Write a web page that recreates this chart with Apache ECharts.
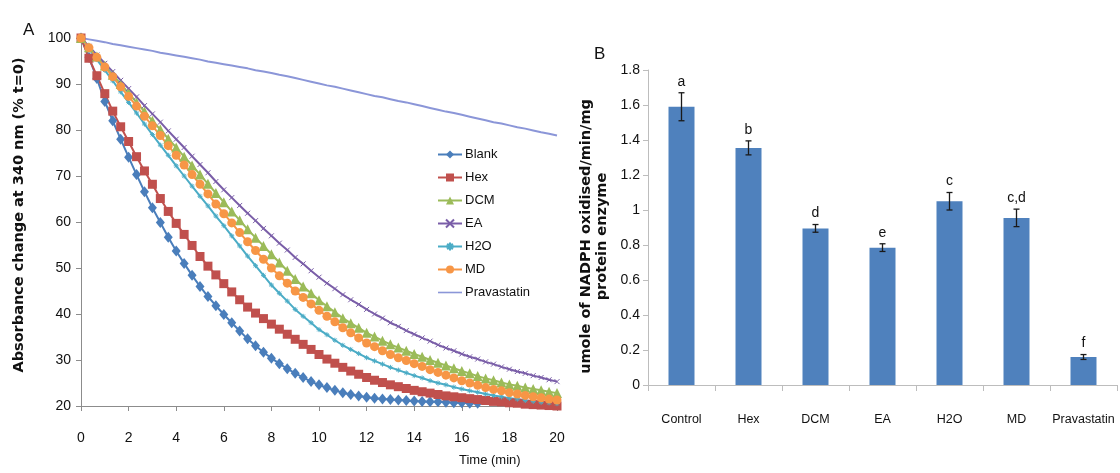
<!DOCTYPE html>
<html>
<head>
<meta charset="utf-8">
<script src="https://cdn.jsdelivr.net/npm/echarts@6/dist/echarts.min.js"></script>
<style>
  html, body { margin: 0; padding: 0; background: #fff; }
  #chart { width: 1120px; height: 473px; }
</style>
</head>
<body>
<div id="chart"></div>
<script>
// Panel A: absorbance at 340 nm over time, sampled every 20 s
const timeSec = [0, 20, 40, 60, 80, 100, 120, 140, 160, 180, 200, 220, 240, 260, 280, 300,
  320, 340, 360, 380, 400, 420, 440, 460, 480, 500, 520, 540, 560, 580, 600,
  620, 640, 660, 680, 700, 720, 740, 760, 780, 800, 820, 840, 860, 880, 900,
  920, 940, 960, 980, 1000, 1020, 1040, 1060, 1080, 1100, 1120, 1140, 1160, 1180, 1200];

const blank = [100, 95.8, 91.2, 86.2, 82, 78, 74.1, 70.3, 66.6, 63.1, 59.9, 56.7, 53.7,
  51, 48.4, 46, 43.8, 41.8, 39.9, 38.1, 36.3, 34.6, 33.1, 31.7, 30.4, 29.2, 28.1, 27.1,
  26.2, 25.3, 24.6, 24, 23.4, 22.9, 22.5, 22.2, 21.9, 21.7, 21.5, 21.4, 21.3, 21.2, 21.1,
  21, 20.9, 20.9, 20.8, 20.7, 20.7, 20.6, 20.6];

const hex = [100, 95.6, 91.8, 87.9, 84.1, 80.7, 77.5, 74.2, 71.1, 68.2, 65.1, 62.3, 59.7,
  57.3, 54.9, 52.5, 50.4, 48.5, 46.6, 44.8, 43.1, 41.5, 40.2, 39, 37.8, 36.7, 35.6, 34.5,
  33.4, 32.3, 31.2, 30.2, 29.3, 28.4, 27.6, 26.9, 26.2, 25.6, 25.1, 24.6, 24.2, 23.8, 23.4,
  23.1, 22.8, 22.5, 22.2, 22, 21.8, 21.6, 21.4, 21.2, 21, 20.9, 20.7, 20.6, 20.4, 20.3,
  20.2, 20.1, 20];

const dcm = [100, 98, 96, 94, 92, 90, 88, 86, 84, 82, 80.1, 78.1, 76.2, 74.2, 72.3, 70.3,
  68.3, 66.3, 64.3, 62.3, 60.4, 58.4, 56.6, 54.8, 53, 51.2, 49.4, 47.6, 46, 44.5, 43,
  41.7, 40.4, 39.1, 38, 37, 35.9, 35.1, 34.2, 33.4, 32.7, 32, 31.3, 30.7, 30, 29.4,
  28.8, 28.2, 27.6, 27.1, 26.5, 26, 25.6, 25.1, 24.7, 24.4, 24, 23.7, 23.4, 23.1, 22.8];

const ea = [100, 98.2, 96.3, 94.5, 92.7, 90.8, 89, 87.2, 85.3, 83.5, 81.7, 79.8, 78,
  76.2, 74.3, 72.5, 70.7, 68.8, 67, 65.3, 63.6, 61.9, 60.3, 58.6, 57, 55.4, 53.9, 52.3,
  50.9, 49.4, 48, 46.7, 45.5, 44.2, 43.1, 42.1, 41, 40, 39.1, 38.1, 37.3, 36.4, 35.6,
  34.8, 34.1, 33.3, 32.6, 32, 31.3, 30.7, 30.2, 29.6, 29.1, 28.5, 28, 27.5, 27.1, 26.6,
  26.2, 25.7, 25.3];

const h2o = [100, 97.7, 95.3, 93, 90.7, 88.3, 86, 83.7, 81.3, 79, 76.7, 74.5, 72.2,
  70, 67.8, 65.6, 63.5, 61.3, 59.2, 57, 54.8, 52.6, 50.5, 48.4, 46.3, 44.5, 42.8, 41,
  39.5, 38.1, 36.6, 35.5, 34.3, 33.2, 32.3, 31.4, 30.5, 29.8, 29.1, 28.4, 27.8, 27.2,
  26.6, 26.1, 25.5, 25, 24.6, 24.1, 23.7, 23.3, 23, 22.6, 22.3, 22, 21.7, 21.5, 21.2,
  21, 20.8, 20.7, 20.5];

const md = [100, 97.9, 95.8, 93.7, 91.6, 89.4, 87.3, 85.2, 83, 80.9, 78.8, 76.6, 74.5,
  72.4, 70.3, 68.2, 66.1, 63.9, 61.8, 59.8, 57.7, 55.7, 53.8, 51.9, 50, 48.3, 46.7, 45,
  43.6, 42.2, 40.8, 39.5, 38.3, 37, 35.9, 34.8, 33.7, 32.9, 32, 31.2, 30.5, 29.9, 29.2,
  28.6, 27.9, 27.3, 26.7, 26.1, 25.5, 25, 24.5, 24, 23.6, 23.3, 22.9, 22.6, 22.3, 22,
  21.8, 21.5, 21.3];

const pravastatin = [100, 99.7, 99.4, 99.1, 98.7, 98.4, 98.1, 97.8, 97.5, 97.2, 96.8,
  96.5, 96.2, 95.9, 95.6, 95.3, 94.9, 94.6, 94.3, 94, 93.7, 93.4, 93, 92.7, 92.4, 92,
  91.7, 91.3, 90.9, 90.5, 90.1, 89.7, 89.4, 89, 88.6, 88.2, 87.8, 87.4, 87.1, 86.7,
  86.3, 86, 85.6, 85.2, 84.8, 84.4, 84, 83.7, 83.3, 82.9, 82.5, 82.1, 81.7, 81.4, 81,
  80.6, 80.3, 79.9, 79.5, 79.2, 78.8];

// Panel B: HMG-CoA reductase activity
const groups = ['Control', 'Hex', 'DCM', 'EA', 'H2O', 'MD', 'Pravastatin'];
const activity = [1.59, 1.355, 0.895, 0.785, 1.05, 0.955, 0.16];
const activityErr = [0.08, 0.04, 0.022, 0.022, 0.05, 0.05, 0.014];
const letters = ['a', 'b', 'd', 'e', 'c', 'c,d', 'f'];

const SANS = "'Liberation Sans', Arial, sans-serif";
const TITLE_FONT = "'DejaVu Sans', Verdana, sans-serif";

function pairs(values) {
  return values.map((v, i) => [timeSec[i] / 60, v]);
}

const crossPath = 'path://M0,0L10,10M10,0L0,10';
const starPath = 'path://M0,5L10,5M5,0L5,10M1.5,1.5L8.5,8.5M8.5,1.5L1.5,8.5';

function curve(name, values, color, symbol, size, extra) {
  return Object.assign({
    name: name,
    type: 'line',
    xAxisIndex: 0,
    yAxisIndex: 0,
    data: pairs(values),
    symbol: symbol,
    symbolSize: size,
    showSymbol: symbol !== 'none',
    color: color,
    lineStyle: { color: color, width: 2 },
    itemStyle: { color: color },
    emphasis: { disabled: true }
  }, extra || {});
}

const chart = echarts.init(document.getElementById('chart'), null, { renderer: 'canvas' });

const option = {
  animation: false,
  backgroundColor: '#ffffff',
  grid: [
    { left: 81, top: 38, width: 476, height: 368 },
    { left: 648, top: 70, width: 469, height: 315 }
  ],
  legend: {
    orient: 'vertical',
    left: 432,
    top: 143,
    itemWidth: 24,
    itemHeight: 10,
    itemGap: 10,
    textStyle: { fontFamily: SANS, fontSize: 13, color: '#111', padding: [0, 0, 0, -2] },
    data: ['Blank', 'Hex', 'DCM', 'EA', 'H2O', 'MD',
      { name: 'Pravastatin', icon: 'path://M0,4.2L24,4.2L24,5.8L0,5.8Z' }]
  },
  xAxis: [
    {
      type: 'value', gridIndex: 0, min: 0, max: 20, interval: 2,
      axisLine: { show: true, lineStyle: { color: '#8c8c8c', width: 1 } },
      axisTick: { show: true, length: 5, lineStyle: { color: '#8c8c8c' } },
      axisLabel: { margin: 25, fontFamily: SANS, fontSize: 14, color: '#111' },
      splitLine: { show: false }
    },
    {
      type: 'category', gridIndex: 1, data: groups,
      axisLine: { show: true, lineStyle: { color: '#bdbdbd', width: 1 } },
      axisTick: { show: true, length: 6, lineStyle: { color: '#bdbdbd' } },
      axisLabel: { margin: 28, interval: 0, fontFamily: SANS, fontSize: 12.5, color: '#111' },
      splitLine: { show: false }
    }
  ],
  yAxis: [
    {
      type: 'value', gridIndex: 0, min: 20, max: 100, interval: 10,
      name: 'Absorbance change at 340 nm (% t=0)',
      nameLocation: 'middle', nameGap: 54,
      nameTextStyle: { fontFamily: TITLE_FONT, fontWeight: 'bold', fontSize: 14.5, color: '#111',
        padding: [0, 0, 0, 14] },
      axisLine: { show: true, lineStyle: { color: '#8c8c8c', width: 1 } },
      axisTick: { show: true, length: 5, lineStyle: { color: '#8c8c8c' } },
      axisLabel: { margin: 10, fontFamily: SANS, fontSize: 14, color: '#111' },
      splitLine: { show: false }
    },
    {
      type: 'value', gridIndex: 1, min: 0, max: 1.8, interval: 0.2,
      name: 'umole of NADPH oxidised/min/mg\nprotein enzyme',
      nameLocation: 'middle', nameGap: 38,
      nameTextStyle: { fontFamily: TITLE_FONT, fontWeight: 'bold', fontSize: 14.5, color: '#111',
        lineHeight: 16, align: 'center', padding: [0, 18, 0, 0] },
      axisLine: { show: true, lineStyle: { color: '#bdbdbd', width: 1 } },
      axisTick: { show: true, length: 5, lineStyle: { color: '#bdbdbd' } },
      axisLabel: { margin: 8, fontFamily: SANS, fontSize: 14, color: '#111' },
      splitLine: { show: false }
    }
  ],
  graphic: [
    { type: 'text', left: 23, top: 22,
      style: { text: 'A', font: '17px ' + SANS, fill: '#111' } },
    { type: 'text', left: 594, top: 46,
      style: { text: 'B', font: '17px ' + SANS, fill: '#111' } },
    { type: 'text', left: 459, top: 454,
      style: { text: 'Time (min)', font: '13px ' + SANS, fill: '#111' } }
  ],
  series: [
    curve('Blank', blank, '#4a7ebb', 'diamond', [9, 11]),
    curve('Hex', hex, '#c0504d', 'rect', 9),
    curve('DCM', dcm, '#9bbb59', 'triangle', 10),
    curve('EA', ea, '#7a5ea8', crossPath, 5,
      { itemStyle: { color: '#7a5ea8', borderColor: '#7a5ea8', borderWidth: 1 } }),
    curve('H2O', h2o, '#4bacc6', starPath, 5,
      { itemStyle: { color: '#4bacc6', borderColor: '#4bacc6', borderWidth: 1 } }),
    curve('MD', md, '#f79646', 'circle', 9),
    curve('Pravastatin', pravastatin, '#8b96d8', 'none', 0),
    {
      name: 'activity', type: 'bar', xAxisIndex: 1, yAxisIndex: 1,
      data: activity, barWidth: 26,
      itemStyle: { color: '#4f81bd' },
      emphasis: { disabled: true }
    },
    {
      name: 'sd', type: 'custom', xAxisIndex: 1, yAxisIndex: 1,
      data: activity.map((v, i) => [i, v, activityErr[i]]),
      encode: { x: 0, y: 1 },
      z: 5,
      renderItem: function (params, api) {
        const i = api.value(0), m = api.value(1), e = api.value(2);
        const top = api.coord([i, m + e]);
        const bot = api.coord([i, m - e]);
        const cap = 3;
        const stroke = { stroke: '#1a1a1a', lineWidth: 1.3 };
        return {
          type: 'group',
          children: [
            { type: 'line', shape: { x1: top[0], y1: top[1], x2: bot[0], y2: bot[1] }, style: stroke },
            { type: 'line', shape: { x1: top[0] - cap, y1: top[1], x2: top[0] + cap, y2: top[1] }, style: stroke },
            { type: 'line', shape: { x1: bot[0] - cap, y1: bot[1], x2: bot[0] + cap, y2: bot[1] }, style: stroke },
            { type: 'text', x: top[0], y: top[1] - 4,
              style: { text: letters[params.dataIndex], textAlign: 'center', textVerticalAlign: 'bottom',
                font: '14px ' + SANS, fill: '#111' } }
          ]
        };
      }
    }
  ]
};

chart.setOption(option);
</script>
</body>
</html>
